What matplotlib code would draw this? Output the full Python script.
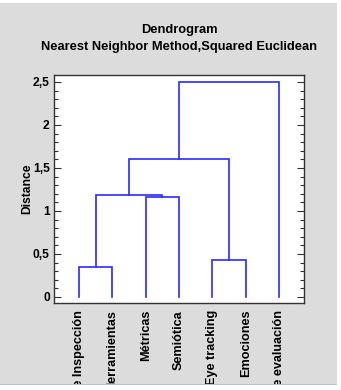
import matplotlib
matplotlib.use('Agg')
import matplotlib.pyplot as plt
from matplotlib.patches import Rectangle
from matplotlib.ticker import MultipleLocator

plt.rcParams['font.family'] = ['Liberation Sans', 'DejaVu Sans']
plt.rcParams['font.weight'] = 'bold'

# leaves in dendrogram order
labels = ['Métodos de Inspección', 'Herramientas', 'Métricas', 'Semiótica',
          'Eye tracking', 'Emociones', 'Métodos de evaluación']
# merges: (cluster a, cluster b, distance); new clusters numbered from 7
merge_a = [0, 2, 4, 7, 10, 11]
merge_b = [1, 3, 5, 8, 9, 6]
merge_h = [0.35, 1.16, 0.43, 1.18, 1.60, 2.50]
yticks = [0, 0.5, 1, 1.5, 2, 2.5]
ytick_labels = ['0', '0,5', '1', '1,5', '2', '2,5']

fig = plt.figure(figsize=(3.41, 3.9), dpi=100)
fig.patch.set_facecolor('white')
fig.patches.append(Rectangle((0, 6/390), 337/341, 1 - 6/390 - 3/390,
                             transform=fig.transFigure, facecolor='#dcdcdc',
                             edgecolor='none', zorder=-10))
fig.patches.append(Rectangle((0, 5/390), 337/341, 1.2/390,
                             transform=fig.transFigure, facecolor='#b8c4d8',
                             edgecolor='none', zorder=-9))

ax = fig.add_axes([54/341, 1 - 303/390, 250/341, 228/390])
ax.set_facecolor('white')

xpos = {i: float(i) for i in range(len(labels))}
ypos = {i: 0.0 for i in range(len(labels))}
c = len(labels)
for a, b, h in zip(merge_a, merge_b, merge_h):
    xa, xb = xpos[a], xpos[b]
    ax.plot([xa, xa, xb, xb], [ypos[a], h, h, ypos[b]], color='#2a2aff', lw=1.2,
            solid_joinstyle='miter')
    xpos[c] = (xa + xb) / 2
    ypos[c] = h
    c += 1

ax.set_xlim(-0.75, 6.75)
ax.set_ylim(-0.07, 2.581)
ax.set_xticks(range(len(labels)))
ax.set_xticklabels(labels, rotation=90, fontsize=9.1, fontweight='bold')
ax.tick_params(axis='x', length=0, pad=5)
ax.set_yticks(yticks)
ax.set_yticklabels(ytick_labels, fontsize=8.7, fontweight='bold')
ax.yaxis.set_minor_locator(MultipleLocator(0.1))
ax.tick_params(axis='y', which='both', direction='in', left=True, right=True,
               width=0.8, color='#333333')
ax.tick_params(axis='y', which='major', length=5, pad=3)
ax.tick_params(axis='y', which='minor', length=3)
for s in ax.spines.values():
    s.set_color('#333333')
    s.set_linewidth(1.0)

ax.set_ylabel('Distance', fontsize=8.7, fontweight='bold')
ax.yaxis.set_label_coords(-0.082, 0.5)

fig.text(179/341, 1 - 30/390, 'Dendrogram', ha='center', va='center',
         fontsize=9.3, fontweight='bold')
fig.text(179/341, 1 - 47/390, 'Nearest Neighbor Method,Squared Euclidean',
         ha='center', va='center', fontsize=9.3, fontweight='bold')

# clip tick labels at the bottom of the gray panel
clip = Rectangle((0, 6/390), 1, 1, transform=fig.transFigure)
for t in ax.get_xticklabels():
    t.set_clip_path(clip)

fig.savefig('out.png', dpi=100)
